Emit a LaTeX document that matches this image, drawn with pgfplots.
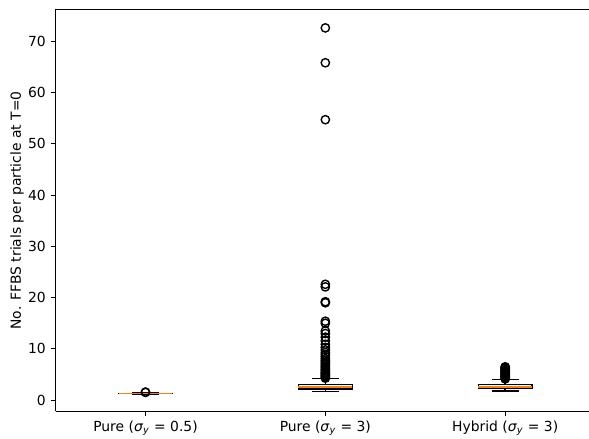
\documentclass[border=0pt]{standalone}
\usepackage{pgfplots}
\pgfplotsset{compat=1.18}
\usepgfplotslibrary{statistics}
\usetikzlibrary{calc}
\usepackage{fontspec}
\setmainfont{DejaVu Sans}
\definecolor{mplorange}{RGB}{255,127,14}

\begin{document}
\begin{tikzpicture}
\begin{axis}[
    scale only axis,
    width=384pt,
    height=289.4pt,
    xmin=0.5, xmax=3.466,
    ymin=-2.2, ymax=76.2,
    axis x line=box,
    axis y line*=left,
    xtick pos=left,
    tick align=outside,
    major tick length=3.5pt,
    axis line style={line width=0.8pt},
    tick style={line width=0.8pt, black},
    xtick={1,2,3},
    xticklabels={
        {Pure (\textit{σ}\textsubscript{\textit{y}} = 0.5)},
        {Pure (\textit{σ}\textsubscript{\textit{y}} = 3)},
        {Hybrid (\textit{σ}\textsubscript{\textit{y}} = 3)}},
    ytick={0,10,...,70},
    /pgf/number format/assume math mode=true,
    tick label style={font=\fontsize{10}{12}\selectfont},
    ylabel={No. FFBS trials per particle at T=0},
    every axis y label/.style={at={(axis description cs:-0.0724,0.5)}, rotate=90, anchor=center,
        font=\fontsize{10}{12}\selectfont},
    boxplot/draw direction=y,
    boxplot/box extend=0.3,
    boxplot/whisker extend=0.15,
    boxplot/every median/.style={draw=mplorange, line width=1pt},
]
% Pure (sigma_y = 0.5)
\addplot[black, line width=1pt, mark=o, mark size=3pt, mark options={solid, line width=1pt},
    boxplot prepared={draw position=1, median=1.3, lower quartile=1.26, upper quartile=1.34,
        lower whisker=1.18, upper whisker=1.44}]
    table[row sep=\\, y index=0] {data\\ 1.52\\ 1.58\\};
% Pure (sigma_y = 3)
\addplot[black, line width=1pt, mark=o, mark size=3pt, mark options={solid, line width=1pt},
    boxplot prepared={draw position=2, median=2.55, lower quartile=2.2, upper quartile=3.1,
        lower whisker=1.7, upper whisker=4.2}]
    table[row sep=\\, y index=0] {data\\
    4.3\\ 4.5\\ 4.7\\ 4.9\\ 5.1\\ 5.3\\ 5.5\\ 5.8\\ 6.0\\ 6.3\\ 6.6\\ 6.9\\ 7.2\\ 7.5\\ 7.8\\
    8.1\\ 8.5\\ 8.9\\ 9.3\\ 9.8\\ 10.3\\ 10.9\\ 11.6\\ 12.3\\ 13.0\\ 13.5\\ 15.0\\ 15.4\\
    19.0\\ 19.2\\ 22.1\\ 22.6\\ 54.7\\ 65.8\\ 72.6\\};
% Hybrid (sigma_y = 3)
\addplot[black, line width=1pt, mark=o, mark size=3pt, mark options={solid, line width=1pt},
    boxplot prepared={draw position=3, median=2.6, lower quartile=2.25, upper quartile=3.05,
        lower whisker=1.8, upper whisker=4.05}]
    table[row sep=\\, y index=0] {data\\
    4.15\\ 4.3\\ 4.45\\ 4.6\\ 4.75\\ 4.9\\ 5.05\\ 5.2\\ 5.35\\ 5.5\\ 5.65\\ 5.8\\ 5.95\\
    6.1\\ 6.25\\ 6.4\\ 6.5\\};
\end{axis}
\pgfresetboundingbox
\path ($(current axis.south west)+(-40pt,-19.4pt)$) rectangle ($(current axis.north east)+(0,6.8pt)$);
\end{tikzpicture}
\end{document}
